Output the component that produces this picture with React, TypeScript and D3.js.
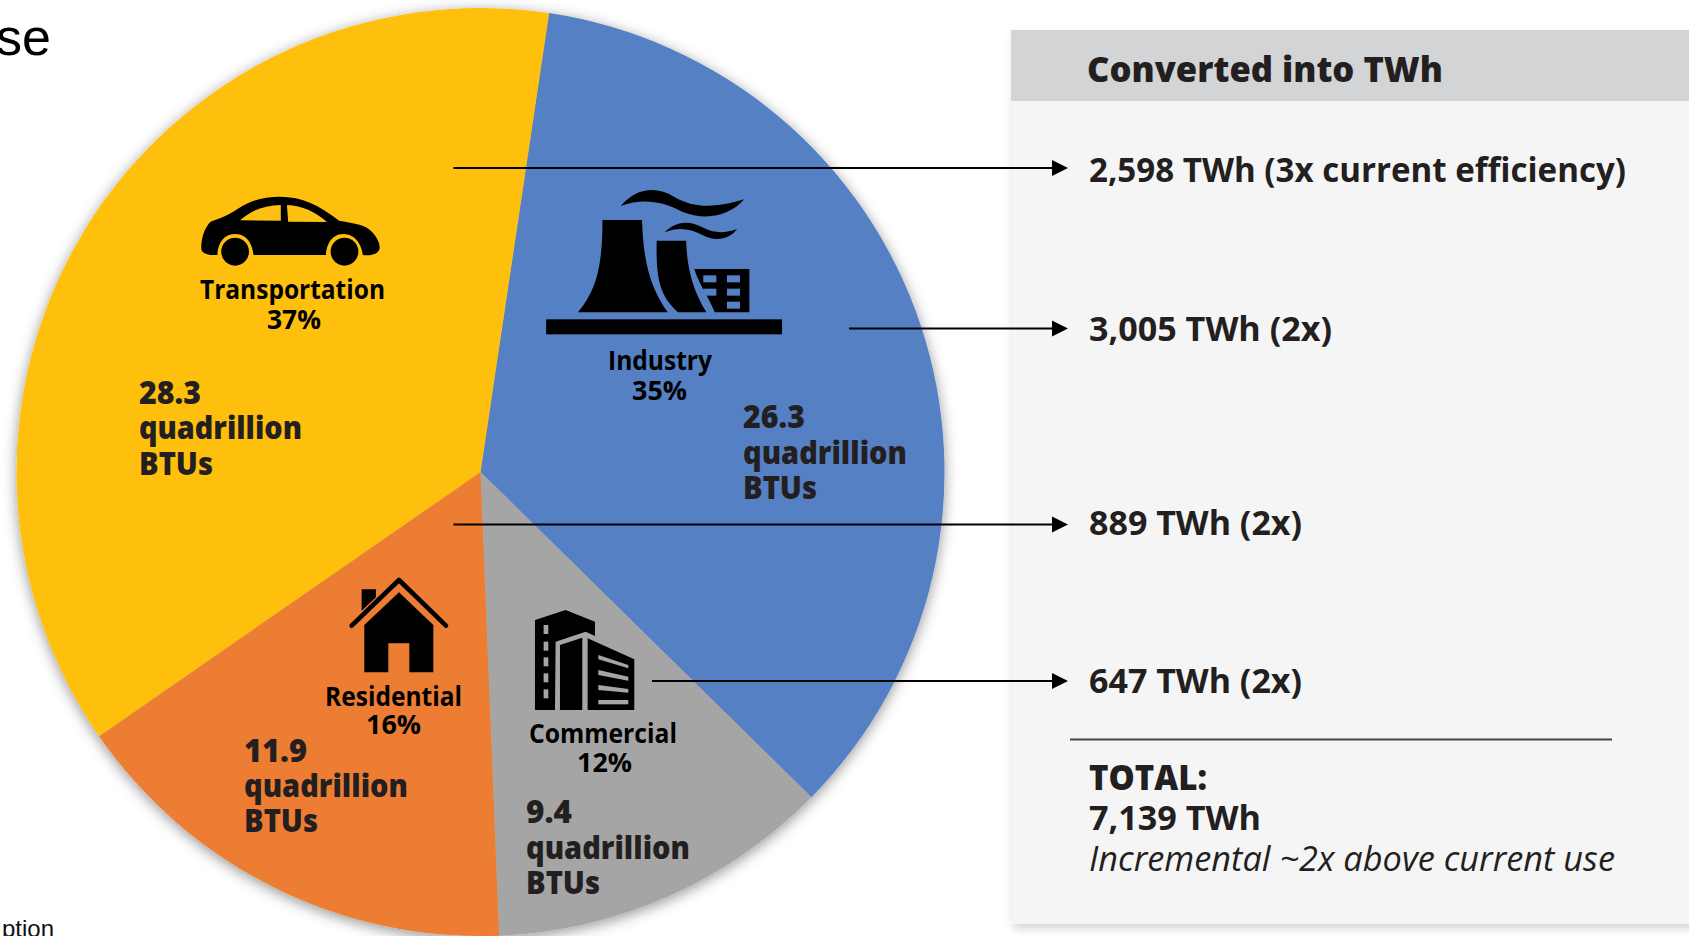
import React from "react";
import * as d3 from "d3";

const categories = ["Industry", "Commercial", "Residential", "Transportation"];
const sharePercents = [35, 12, 16, 37];
const btuValues = [26.3, 9.4, 11.9, 28.3];
const sliceColors = ["#5480c4", "#a5a5a5", "#ed7d31", "#fec010"];
const conversionRows = [
  "2,598 TWh (3x current efficiency)",
  "3,005 TWh (2x)",
  "889 TWh (2x)",
  "647 TWh (2x)",
];
const panelTitle = "Converted into TWh";
const totalLines = ["TOTAL:", "7,139 TWh", "Incremental ~2x above current use"];
const btuUnit = ["quadrillion", "BTUs"];

const W = 1689;
const H = 936;
const CX = 480.5;
const CY = 472;
const R = 464;
const START_DEG = 8.5;
const SANS = "'Open Sans', 'Noto Sans', sans-serif";

const labelLayout: Record<string, any> = {
  Transportation: { nameX: 200, nameW: 185, nameY: 299, pctX: 267, pctW: 54, pctY: 329, btuX: 139, btuY: [404, 439, 475], btuW: [62, 163, 74] },
  Industry: { nameX: 608, nameW: 104, nameY: 370, pctX: 632, pctW: 55, pctY: 400, btuX: 743, btuY: [428, 464, 499], btuW: [62, 164, 74] },
  Residential: { nameX: 325, nameW: 137, nameY: 706, pctX: 366, pctW: 55, pctY: 734, btuX: 244, btuY: [762, 797, 832], btuW: [63, 164, 74] },
  Commercial: { nameX: 529, nameW: 148, nameY: 743, pctX: 577, pctW: 55, pctY: 772, btuX: 526, btuY: [823, 859, 894], btuW: [46, 164, 74] },
};

const rowLayout = [
  { from: 453.5, y: 168, base: 182, textW: 537 },
  { from: 849, y: 328.5, base: 341, textW: 243 },
  { from: 453.5, y: 524.5, base: 534.5, textW: 213 },
  { from: 652, y: 681, base: 693, textW: 213 },
];

function Fit({ x, y, w, size, weight = 700, fill = "#231f20", italic = false, children }: any) {
  return (
    <text
      x={x}
      y={y}
      fontFamily={SANS}
      fontSize={size}
      fontWeight={weight}
      fontStyle={italic ? "italic" : "normal"}
      fill={fill}
      textLength={w}
      lengthAdjust="spacingAndGlyphs"
    >
      {children}
    </text>
  );
}

function Car() {
  const bg = sliceColors[3];
  return (
    <g transform={`matrix(${1 / 2.45},0,0,${1 / 3},180,170)`} fill="#000">
      <path d="M52,235 C52,200 62,170 75,155 C100,145 120,135 140,118 C175,90 205,80 245,80 C300,80 340,105 390,152 C430,160 455,165 470,185 C485,205 492,225 488,240 C482,255 465,257 448,255 C445,225 430,192 400,192 C372,192 358,225 358,255 L180,255 C178,225 165,192 135,192 C105,192 92,225 92,255 L75,255 C60,253 52,245 52,235 Z" />
      <path fill={bg} d="M147,151 C175,120 205,107 247,105 L247,152 Z" />
      <path fill={bg} d="M262,105 C300,107 330,125 360,156 L265,155 Z" />
      <ellipse cx={135} cy={245} rx={34} ry={42} />
      <ellipse cx={403} cy={245} rx={34} ry={42} />
    </g>
  );
}

function Factory() {
  const bg = sliceColors[0];
  return (
    <g transform={`matrix(${1 / 2.45},0,0,${1 / 3},180,170)`} fill="#000">
      <rect x={897} y={448} width={578} height={45} />
      <path d="M975,427 C1020,360 1035,290 1035,150 L1132,150 C1135,270 1150,350 1195,427 Z" />
      <path d="M1168,212 L1240,212 C1242,290 1255,360 1290,427 L1220,427 C1180,380 1165,340 1168,212 Z" />
      <path d="M1260,297 L1395,297 L1395,427 L1310,427 C1295,380 1270,340 1260,297 Z" />
      {[[1282, 316], [1340, 316], [1282, 356], [1340, 356], [1340, 395]].map(([x, y], i) => (
        <rect key={i} x={x} y={y} width={32} height={21} fill={bg} />
      ))}
      <path d="M1080,108 C1120,50 1170,50 1210,80 C1260,115 1310,115 1382,88 C1350,135 1290,155 1230,125 C1180,92 1130,85 1080,108 Z" />
      <path d="M1187,187 C1220,150 1250,152 1285,175 C1310,190 1335,190 1365,177 C1345,210 1310,215 1280,195 C1250,175 1220,170 1187,187 Z" />
    </g>
  );
}

function House() {
  return (
    <g transform="matrix(0.3333,0,0,0.3333,220,560)" fill="#000">
      <path d="M425,88 L468,88 L468,112 L425,152 Z" />
      <path d="M395,197 L537,60 L678,197" fill="none" stroke="#000" strokeWidth={14} strokeLinecap="round" strokeLinejoin="round" />
      <path d="M537,97 L640,195 L640,337 L568,337 L568,250 L505,250 L505,337 L433,337 L433,195 Z" />
    </g>
  );
}

function Building() {
  const bg = sliceColors[1];
  return (
    <g transform="matrix(0.3333,0,0,0.3333,220,560)" fill="#000">
      <path d="M945,180 L1037,150 L1125,185 L1125,228 L1097,215 L1007,245 L1005,450 L945,450 Z" />
      <path d="M1020,255 L1087,233 L1087,450 L1020,450 Z" />
      <path d="M1103,235 L1243,298 L1243,450 L1103,450 Z" />
      {[195, 245, 292, 340, 388].map((y) => (
        <rect key={y} x={971} y={y} width={14} height={27} fill={bg} />
      ))}
      <path fill={bg} d="M1135,285 L1225,315 L1225,325 L1135,298 Z" />
      <path fill={bg} d="M1135,330 L1225,350 L1225,362 L1135,345 Z" />
      <path fill={bg} d="M1135,375 L1225,387 L1225,398 L1135,390 Z" />
      <path fill={bg} d="M1135,420 L1225,420 L1225,433 L1135,433 Z" />
    </g>
  );
}

export default function App() {
  const start = (START_DEG * Math.PI) / 180;
  const pie = d3
    .pie<number>()
    .sort(null)
    .startAngle(start)
    .endAngle(start + 2 * Math.PI);
  const arc = d3.arc<d3.PieArcDatum<number>>().innerRadius(0).outerRadius(R);
  const slices = pie(sharePercents);

  return (
    <svg
      width={W}
      height={H}
      viewBox={`0 0 ${W} ${H}`}
      style={{ position: "absolute", left: 0, top: 0, display: "block", background: "#fff" }}
    >
      <defs>
        <filter id="pieShadow" x="-10%" y="-10%" width="120%" height="120%">
          <feDropShadow dx={0} dy={3} stdDeviation={7} floodColor="#000" floodOpacity={0.42} />
        </filter>
        <filter id="panelShadow" x="-5%" y="-5%" width="110%" height="110%">
          <feDropShadow dx={2} dy={5} stdDeviation={4} floodColor="#000" floodOpacity={0.16} />
        </filter>
      </defs>

      <text x={51} y={55} textAnchor="end" fontFamily="'Liberation Sans', Arial, sans-serif" fontSize={52} fill="#000">
        se
      </text>
      <text x={54} y={937} textAnchor="end" fontFamily="'Liberation Sans', Arial, sans-serif" fontSize={24} fill="#111">
        ption
      </text>

      <rect x={1011} y={30} width={W - 1011 + 20} height={894} fill="#f5f5f6" filter="url(#panelShadow)" />
      <rect x={1011} y={30} width={W - 1011} height={71} fill="#d3d4d6" />
      <Fit x={1087} y={82} w={356} size={36} weight={800}>{panelTitle}</Fit>

      <g transform={`translate(${CX},${CY})`} filter="url(#pieShadow)">
        {slices.map((s, i) => (
          <path key={categories[i]} d={arc(s) as string} fill={sliceColors[i]} />
        ))}
      </g>

      <Car />
      <Factory />
      <House />
      <Building />

      {categories.map((name, i) => {
        const l = labelLayout[name];
        return (
          <g key={name}>
            <Fit x={l.nameX} y={l.nameY} w={l.nameW} size={26} fill="#000">{name}</Fit>
            <Fit x={l.pctX} y={l.pctY} w={l.pctW} size={26} fill="#000">{`${sharePercents[i]}%`}</Fit>
            {[String(btuValues[i]), ...btuUnit].map((t, j) => (
              <Fit key={t} x={l.btuX} y={l.btuY[j]} w={l.btuW[j]} size={31} weight={800}>{t}</Fit>
            ))}
          </g>
        );
      })}

      {conversionRows.map((t, i) => {
        const r = rowLayout[i];
        return (
          <g key={t}>
            <line x1={r.from} x2={1054} y1={r.y} y2={r.y} stroke="#000" strokeWidth={2} />
            <path d={`M1052,${r.y - 8} L1068,${r.y} L1052,${r.y + 8} Z`} fill="#000" />
            <Fit x={1089} y={r.base} w={r.textW} size={34}>{t}</Fit>
          </g>
        );
      })}

      <line x1={1070} x2={1612} y1={739.5} y2={739.5} stroke="#444" strokeWidth={2} />
      <Fit x={1089} y={790} w={118} size={35} weight={800}>{totalLines[0]}</Fit>
      <Fit x={1089} y={830} w={172} size={34}>{totalLines[1]}</Fit>
      <Fit x={1089} y={871} w={526} size={35} weight={400} italic>{totalLines[2]}</Fit>
    </svg>
  );
}
